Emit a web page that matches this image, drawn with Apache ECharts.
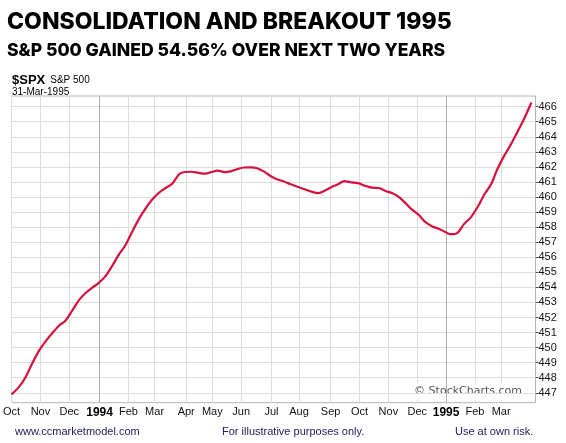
<!DOCTYPE html>
<html>
<head>
<meta charset="utf-8">
<script src="https://cdn.jsdelivr.net/npm/echarts@6/dist/echarts.min.js"></script>
<style>
html,body{margin:0;padding:0;background:#fff;}
#chart{width:566px;height:443px;}
</style>
</head>
<body>
<div id="chart"></div>
<script>
// ---- data ----
const titleText = 'CONSOLIDATION AND BREAKOUT 1995';
const subtitleText = 'S&P 500 GAINED 54.56% OVER NEXT TWO YEARS';
const symbolText = '$SPX';
const symbolName = 'S&P 500';
const dateText = '31-Mar-1995';
const footerLeft = 'www.ccmarketmodel.com';
const footerMid = 'For illustrative purposes only.';
const footerRight = 'Use at own risk.';
const watermark = '\u00A9 StockCharts.com';

const holidays = ['1993-11-25','1993-12-24','1994-02-21','1994-04-01','1994-04-27','1994-05-30',
  '1994-07-04','1994-09-05','1994-11-24','1994-12-26','1995-01-02','1995-02-20'];
const axisStart = '1993-10-01';
const dataEnd = '1995-03-31';
const axisEnd = '1995-04-05';

const sampleDates = [
 '1993-10-01','1993-10-08','1993-10-15','1993-10-22','1993-10-29','1993-11-05','1993-11-12','1993-11-19','1993-11-26',
 '1993-12-03','1993-12-10','1993-12-17','1993-12-23','1993-12-31','1994-01-07','1994-01-14','1994-01-21','1994-01-28',
 '1994-02-04','1994-02-11','1994-02-18','1994-02-25','1994-03-04','1994-03-11','1994-03-18','1994-03-25','1994-03-31',
 '1994-04-08','1994-04-15','1994-04-22','1994-04-29','1994-05-06','1994-05-13','1994-05-20','1994-05-27','1994-06-03',
 '1994-06-10','1994-06-17','1994-06-24','1994-07-01','1994-07-08','1994-07-15','1994-07-22','1994-07-29','1994-08-05',
 '1994-08-12','1994-08-19','1994-08-26','1994-09-02','1994-09-09','1994-09-16','1994-09-23','1994-09-30','1994-10-07',
 '1994-10-14','1994-10-21','1994-10-28','1994-11-04','1994-11-11','1994-11-18','1994-11-25','1994-12-02','1994-12-09',
 '1994-12-16','1994-12-23','1994-12-30','1995-01-06','1995-01-13','1995-01-20','1995-01-27','1995-02-03','1995-02-10',
 '1995-02-17','1995-02-24','1995-03-03','1995-03-10','1995-03-17','1995-03-24','1995-03-31'
];
const spxValues = [
 446.89,447.34,448.00,448.94,449.80,450.45,451.00,451.50,451.77,
 452.44,453.15,453.64,453.94,454.27,454.71,455.40,456.17,456.83,
 457.75,458.60,459.31,459.80,460.27,460.60,460.90,461.53,461.66,
 461.68,461.60,461.55,461.65,461.75,461.66,461.72,461.88,461.96,
 461.97,461.90,461.67,461.36,461.18,461.03,460.85,460.68,460.52,
 460.36,460.26,460.43,460.68,460.83,461.05,460.97,460.92,460.75,
 460.62,460.60,460.40,460.25,459.97,459.55,459.18,458.82,458.33,
 458.05,457.88,457.70,457.53,457.60,458.20,458.65,459.35,460.20,
 460.90,461.80,462.70,463.48,464.35,465.25,466.28
];
const yTicks = [447,448,449,450,451,452,453,454,455,456,457,458,459,460,461,462,463,464,465,466];
const yMin = 446.34, yMax = 466.71;
const monthNames = ['Jan','Feb','Mar','Apr','May','Jun','Jul','Aug','Sep','Oct','Nov','Dec'];

// ---- trading-day calendar ----
function fmt(d){const m=d.getUTCMonth()+1, dd=d.getUTCDate();return d.getUTCFullYear()+'-'+(m<10?'0':'')+m+'-'+(dd<10?'0':'')+dd;}
const tradingDays = [];
for (let d = new Date(axisStart+'T00:00:00Z'); fmt(d) <= axisEnd; d.setUTCDate(d.getUTCDate()+1)) {
  const wd = d.getUTCDay();
  const s = fmt(d);
  if (wd === 0 || wd === 6 || holidays.indexOf(s) >= 0) continue;
  tradingDays.push(s);
}
function isMonthStart(i){
  if (tradingDays[i] > dataEnd) return false;
  if (i === 0) return true;
  return tradingDays[i].slice(0,7) !== tradingDays[i-1].slice(0,7);
}
const seriesData = sampleDates.map((d,i)=>[d, spxValues[i]]);

const chart = echarts.init(document.getElementById('chart'), null, {renderer:'canvas'});
const option = {
  backgroundColor:'#fff',
  animation:false,
  title:[
    {text:titleText,left:2,top:6,textStyle:{fontFamily:'Inter',fontWeight:800,fontSize:23,color:'#000'}},
    {text:subtitleText,left:2,top:37,textStyle:{fontFamily:'Inter',fontWeight:800,fontSize:17.6,color:'#000'}},
    {text:'{b|'+symbolText+'} {n|'+symbolName+'}',left:7,top:66,textStyle:{rich:{
      b:{fontFamily:'Liberation Sans',fontWeight:'bold',fontSize:13,color:'#000'},
      n:{fontFamily:'Liberation Sans',fontWeight:'normal',fontSize:10,color:'#000'}}}},
    {text:dateText,left:7,top:82,textStyle:{fontFamily:'Liberation Sans',fontSize:10,fontWeight:'normal',color:'#000'}},
    {text:footerLeft,left:10,top:421,textStyle:{fontFamily:'Liberation Sans',fontSize:11,fontWeight:'normal',color:'#1c1c5a'}},
    {text:footerMid,left:217,top:421,textStyle:{fontFamily:'Liberation Sans',fontSize:11,fontWeight:'normal',color:'#1c1c5a'}},
    {text:footerRight,left:450,top:421,textStyle:{fontFamily:'Liberation Sans',fontSize:11,fontWeight:'normal',color:'#1c1c5a'}}
  ],
  grid:{left:10,right:30.5,top:96,bottom:40.3,show:true,borderColor:'#b4b4b4',borderWidth:1,backgroundColor:'transparent'},
  xAxis:{
    type:'category',boundaryGap:false,data:tradingDays,
    axisLine:{show:false},axisTick:{show:false},
    splitLine:{show:true,interval:(i)=>isMonthStart(i),lineStyle:{color:'#dcdcdc',width:1}},
    axisLabel:{
      interval:(i)=>isMonthStart(i),margin:4,
      fontFamily:'Liberation Sans',fontSize:11,color:'#111',
      formatter:(v)=>{const m=+v.slice(5,7);return m===1?'{y|'+v.slice(0,4)+'}':monthNames[m-1];},
      rich:{y:{fontFamily:'Liberation Sans',fontWeight:'bold',fontSize:12,color:'#000'}}
    }
  },
  yAxis:{
    type:'value',position:'right',min:yMin,max:yMax,
    axisLine:{show:false},
    splitLine:{show:false},
    axisTick:{show:true,length:3,inside:false,customValues:yTicks,lineStyle:{color:'#555'}},
    axisLabel:{customValues:yTicks,margin:3,fontFamily:'Liberation Sans',fontSize:11,color:'#111'}
  },
  series:[
    {type:'line',z:1,data:[],silent:true,
      markLine:{silent:true,symbol:'none',label:{show:false},animation:false,
        lineStyle:{color:'#dcdcdc',width:1,type:'solid'},
        data:yTicks.map(v=>({yAxis:v}))}},
    {type:'line',z:1,data:[],silent:true,
      markLine:{silent:true,symbol:'none',label:{show:false},animation:false,
        lineStyle:{color:'#b0b0b0',width:1,type:'solid'},
        data:tradingDays.filter((d,i)=>isMonthStart(i)&&d.slice(5,7)==='01').map(d=>({xAxis:d}))}},
    {type:'line',z:5,data:seriesData,showSymbol:false,smooth:0.3,
      lineStyle:{color:'#d5103c',width:2.2},itemStyle:{color:'#d5103c'}}
  ],
  graphic:[
    {type:'text',right:36,bottom:43,z:3,style:{text:watermark,fontFamily:'DejaVu Sans',fontSize:11,fill:'#555',
      backgroundColor:'#fff',padding:[3,8,3,8]}}
  ]
};
chart.setOption(option);
</script>
</body>
</html>
